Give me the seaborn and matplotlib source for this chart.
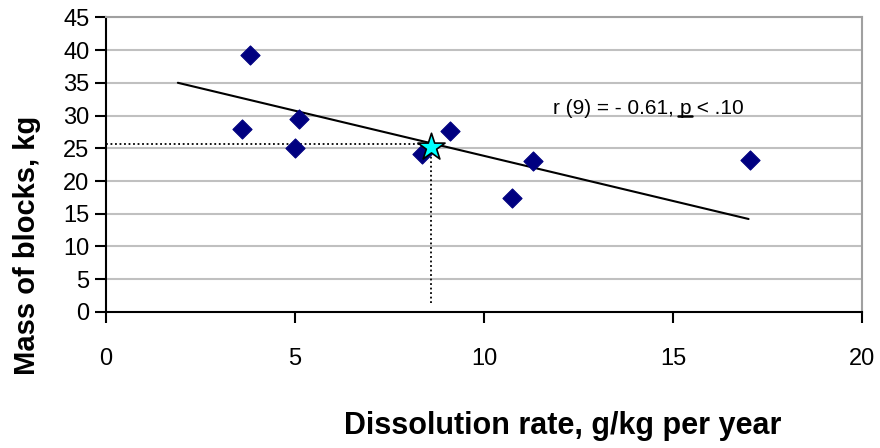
import pandas as pd
import matplotlib.pyplot as plt
import seaborn as sns

# data
rate = [3.6, 3.8, 5.0, 5.1, 8.35, 9.1, 10.75, 11.3, 17.05]
mass = [27.9, 39.2, 25.1, 29.4, 24.1, 27.7, 17.4, 23.1, 23.2]
mean_rate = [8.6]
mean_mass = [25.2]
trend_x = [1.9, 17.0]
trend_y = [35.0, 14.2]
guide_y = 25.7
guide_bottom = 1.4

xticks = [0, 5, 10, 15, 20]
yticks = list(range(0, 50, 5))

sns.set_theme(style='white', rc={'text.color': 'black', 'axes.labelcolor': 'black',
                                 'xtick.color': 'black', 'ytick.color': 'black'})
plt.rcParams['font.family'] = ['Liberation Sans', 'DejaVu Sans']

df = pd.DataFrame({'rate': rate, 'mass': mass})

fig = plt.figure(figsize=(8.8, 4.48), dpi=100)
ax = fig.add_axes([0.1205, 0.3036, 0.859, 0.6578])

for y in yticks[1:]:
    ax.axhline(y, color='#c0c0c0', lw=1.5, zorder=0)

# dotted guides to the mean point
ax.plot([0, mean_rate[0]], [guide_y, guide_y], color='black', ls=(0, (1, 1.5)), lw=1.3, zorder=1)
ax.plot([mean_rate[0], mean_rate[0]], [guide_bottom, guide_y], color='black', ls=(0, (1, 1.5)), lw=1.3, zorder=1)

sns.lineplot(x=trend_x, y=trend_y, color='black', lw=1.5, ax=ax, zorder=2)
sns.scatterplot(data=df, x='rate', y='mass', marker='D', s=95, color='#000080',
                edgecolor='#000080', ax=ax, zorder=3)
sns.scatterplot(x=mean_rate, y=mean_mass, marker='*', s=420, color='#00ffff',
                edgecolor='black', linewidth=1.2, ax=ax, zorder=4)

ax.set_xlim(0, 20)
ax.set_ylim(0, 45)
ax.set_xticks(xticks)
ax.set_yticks(yticks)
ax.tick_params(axis='x', direction='out', length=8, width=1.5, pad=18, labelsize=17, colors='black')
ax.tick_params(axis='y', direction='out', length=8, width=1.5, pad=4, labelsize=17, colors='black')
ax.tick_params(bottom=True, left=True)

for s in ['left', 'bottom']:
    ax.spines[s].set_color('black')
    ax.spines[s].set_linewidth(1.5)
for s in ['top', 'right']:
    ax.spines[s].set_color('#a0a0a0')
    ax.spines[s].set_linewidth(1.5)

ax.set_xlabel('Dissolution rate, g/kg per year', fontsize=22, fontweight='bold', va='top', color='black')
ax.set_ylabel('Mass of blocks, kg', fontsize=21, fontweight='bold', va='center', color='black')
ax.xaxis.set_label_coords(0.6045, -0.336)
ax.yaxis.set_label_coords(-0.1045, 0.227)

# annotation with underlined p
fs = 15
y_txt = 0.672
t1 = ax.text(0.591, y_txt, 'r (9) = - 0.61, ', transform=ax.transAxes,
             fontsize=fs, va='baseline', ha='left', color='black')
fig.canvas.draw()
r = fig.canvas.get_renderer()
bb = t1.get_window_extent(r)
inv = ax.transAxes.inverted()
x_p = inv.transform((bb.x1, bb.y0))[0]
t2 = ax.text(x_p, y_txt, 'p', transform=ax.transAxes, fontsize=fs, va='baseline', ha='left', color='black')
fig.canvas.draw()
bb2 = t2.get_window_extent(r)
x_q = inv.transform((bb2.x1, bb2.y0))[0]
ax.text(x_q, y_txt, ' < .10', transform=ax.transAxes, fontsize=fs, va='baseline', ha='left', color='black')
x0 = inv.transform((bb2.x0 - 1, 0))[0]
x1 = inv.transform((bb2.x1 + 1, 0))[0]
ax.plot([x0, x1], [y_txt - 0.006, y_txt - 0.006], transform=ax.transAxes, color='black', lw=1.8)

plt.savefig('out.png', dpi=100)
